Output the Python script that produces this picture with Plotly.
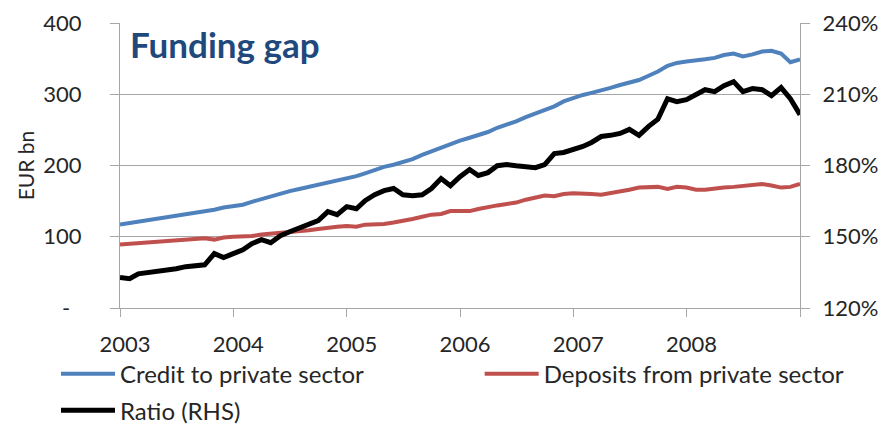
import pandas as pd
import plotly.graph_objects as go

# ---- data ----
months = pd.date_range("2003-01-01", periods=73, freq="MS")

credit = [117, 119, 121, 123, 125, 127, 129, 131, 133, 135, 138, 141,
          143, 145, 149, 153, 156, 160, 164, 167, 170, 173, 176, 180,
          183, 185, 189, 194, 198, 201, 205, 209, 215, 220, 226, 230,
          235, 239, 243, 247, 253, 257, 262, 268, 273, 277, 283, 290,
          295, 299, 302, 305, 309, 313, 317, 320, 326, 332, 340, 344,
          346, 347, 349, 351, 355, 357, 353, 356, 360, 361, 357, 345,
          349]

deposits = [89, 90, 91, 92, 93, 93, 94, 95, 96, 98, 96, 99,
            100, 100, 101, 103, 104, 106, 107, 108, 109, 111, 113, 114,
            115, 114, 117, 117, 118, 120, 122, 125, 128, 131, 132, 136,
            136, 136, 139, 142, 144, 146, 148, 152, 155, 158, 157, 160,
            161, 161, 160, 159, 161, 163, 166, 169, 170, 170, 167, 170,
            169, 166, 166, 168, 169, 170, 171, 172, 174, 172, 169, 170,
            174]

ratio = [132.8, 132.3, 134.4, 134.9, 135.3, 136.1, 136.5, 137.4, 137.8, 138.2, 142.9, 141.2,
         142.9, 144.5, 147.1, 148.8, 147.5, 150.4, 152.1, 153.8, 155.1, 156.8, 160.6, 159.3,
         162.7, 161.8, 165.2, 167.7, 169.4, 170.3, 167.7, 167.3, 167.7, 170.3, 174.5, 171.5,
         175.3, 178.3, 175.8, 177.0, 179.9, 180.4, 179.9, 179.5, 179.1, 180.4, 185.0, 185.5,
         186.7, 188.0, 189.7, 192.2, 192.7, 193.5, 195.2, 192.7, 196.5, 199.5, 208.1, 206.9,
         207.7, 209.8, 211.9, 211.1, 213.6, 215.3, 211.1, 212.4, 211.9, 209.4, 212.8, 208.1,
         201.4]

year_ticks = ["2003-01-01", "2004-01-01", "2005-01-01", "2006-01-01",
              "2007-01-01", "2008-01-01", "2009-01-01"]
year_labels = ["2003", "2004", "2005", "2006", "2007", "2008", ""]

left_ticks = [0, 100, 200, 300, 400]
left_labels = ["-\u00a0\u00a0", "100", "200", "300", "400"]
right_ticks = [120, 150, 180, 210, 240]
right_labels = ["120%", "150%", "180%", "210%", "240%"]

FONT = "Lato, 'Open Sans', sans-serif"
GRID = "#A6A6A6"
TXT = "#262626"
LEGFONT = dict(family=FONT, size=24, color=TXT)

# the page body adds an 8px margin, so the figure is sized to the remaining area
W, H = 879, 416

fig = go.Figure()
fig.add_trace(go.Scatter(x=months, y=credit, mode="lines", name="Credit to private sector",
                         line=dict(color="#4F81BD", width=4), legend="legend"))
fig.add_trace(go.Scatter(x=months, y=deposits, mode="lines", name="Deposits from private sector",
                         line=dict(color="#C0504D", width=4), legend="legend2"))
fig.add_trace(go.Scatter(x=months, y=ratio, mode="lines", name="Ratio (RHS)", yaxis="y2",
                         line=dict(color="#000000", width=5), legend="legend3"))

leg_common = dict(orientation="h", xanchor="left", yanchor="top", xref="container",
                  yref="container", font=LEGFONT, bgcolor="rgba(0,0,0,0)", itemwidth=54)

fig.update_layout(
    width=W, height=H,
    margin=dict(l=112, r=87, t=15, b=116, autoexpand=False),
    paper_bgcolor="white", plot_bgcolor="white",
    font=dict(family=FONT, size=22, color=TXT),
    showlegend=True,
    xaxis=dict(type="date", range=["2003-01-01", "2009-01-01"],
               tickvals=year_ticks, ticktext=year_labels,
               ticks="outside", ticklen=8, tickcolor=GRID, tickwidth=1,
               showline=True, linecolor=GRID, linewidth=1.3,
               showgrid=False, zeroline=False, ticklabelstandoff=8, ticklabelshift=5,
               tickfont=dict(family=FONT, size=22, color=TXT)),
    yaxis=dict(range=[0, 400], tickvals=left_ticks, ticktext=left_labels,
               ticks="outside", ticklen=9, tickcolor=GRID,
               showline=True, linecolor=GRID, linewidth=1.3,
               showgrid=True, gridcolor=GRID, gridwidth=1.3, zeroline=False,
               ticklabelstandoff=24,
               title=dict(text="EUR bn", font=dict(family=FONT, size=21, color=TXT), standoff=2),
               tickfont=dict(family=FONT, size=22, color=TXT)),
    yaxis2=dict(range=[120, 240], tickvals=right_ticks, ticktext=right_labels,
                overlaying="y", side="right", anchor="x",
                ticks="outside", ticklen=9, tickcolor=GRID,
                showline=True, linecolor=GRID, linewidth=1.3,
                showgrid=False, zeroline=False, ticklabelstandoff=8,
                tickfont=dict(family=FONT, size=22, color=TXT)),
    legend=dict(x=0.0546, y=0.174, **leg_common),
    legend2=dict(x=0.5366, y=0.174, **leg_common),
    legend3=dict(x=0.0546, y=0.086, **leg_common),
    annotations=[dict(text="<b>Funding gap</b>", xref="paper", yref="paper",
                      x=0.012, y=0.925, xanchor="left", yanchor="middle", showarrow=False,
                      font=dict(family=FONT, size=35, color="#1F497D"))],
)

fig.write_html("out.html")
